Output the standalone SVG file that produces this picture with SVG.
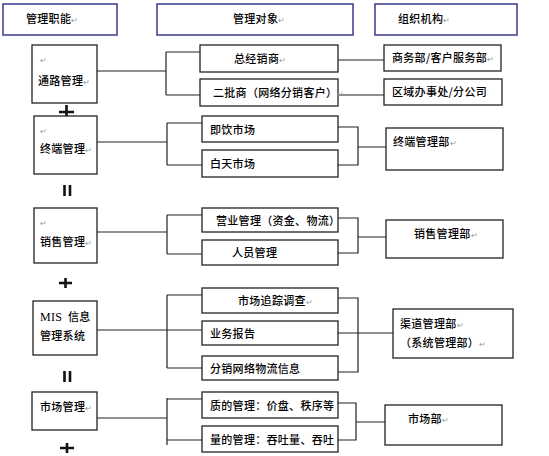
<svg xmlns="http://www.w3.org/2000/svg" width="549" height="456" viewBox="0 0 549 456">
<style>
.hd{fill:#fff;stroke:#3a3a8c;stroke-width:1.5}
.bx{fill:#fff;stroke:#222;stroke-width:1.3}
.ln{fill:none;stroke:#222;stroke-width:1.2}
.sym{fill:none;stroke:#111;stroke-width:2.6}
text{font-family:"Noto Sans CJK SC","Liberation Sans",sans-serif;font-size:11px;font-weight:500;fill:#000;letter-spacing:0.3px}
.c{text-anchor:middle}
.rt{fill:#999;font-size:8px;font-weight:400}
.ser{font-family:"Liberation Serif","Noto Sans CJK SC",serif;font-size:12px}
</style>
<rect width="549" height="456" fill="#fff"/>
<g id="headers">
<g id="h1"><rect class="hd" x="3" y="4" width="114" height="31"/><text x="26" y="23">管理职能<tspan class="rt">↵</tspan></text></g>
<g id="h2"><rect class="hd" x="157" y="4" width="196" height="31"/><text x="233" y="23">管理对象<tspan class="rt">↵</tspan></text></g>
<g id="h3"><rect class="hd" x="375" y="4" width="142" height="31"/><text x="398" y="23">组织机构<tspan class="rt">↵</tspan></text></g>
</g>
<g id="connectors">
<path class="ln" d="M97 71H166M166 52V95M166 52H200M166 95H200M338 60H384M338 95H384"/>
<path class="ln" d="M97 142H167M167 123V165M167 123H202M167 165H202M338 127H358V165H338M358 147H386"/>
<path class="ln" d="M97 232H167M167 215V254M167 215H202M167 254H202M338 218H358V253H338M358 237H386"/>
<path class="ln" d="M97 330H202M167 295V368M167 295H202M167 368H202M338 298H358V372H338M338 333H393"/>
<path class="ln" d="M97 418H167M167 398V445M167 399H202M167 440H202M338 403H356V440H338M356 422H385"/>
</g>
<g id="symbols">
<path class="sym" d="M59 112H74M66.5 105V117"/>
<path class="sym" d="M64.5 185V196M70 185V196"/>
<path class="sym" d="M59 283H72M65.5 278V288"/>
<path class="sym" d="M64.5 371V382M70 371V382"/>
<path class="sym" d="M60 448H74M67 443V453"/>
</g>
<g id="n-tonglu"><rect class="bx" x="32" y="45" width="65" height="58"/><text class="rt" x="40" y="63">↵</text><text x="38" y="85">通路管理<tspan class="rt">↵</tspan></text></g>
<g id="n-zongjingxiao"><rect class="bx" x="200" y="45" width="138" height="27"/><text x="234" y="63">总经销商<tspan class="rt">↵</tspan></text></g>
<g id="n-erpi"><rect class="bx" x="200" y="79" width="138" height="27"/><text x="213" y="97">二批商（网络分销客户）<tspan class="rt">↵</tspan></text></g>
<g id="n-shangwu"><rect class="bx" x="384" y="45" width="117" height="26"/><text x="392" y="62">商务部/客户服务部<tspan class="rt">↵</tspan></text></g>
<g id="n-quyu"><rect class="bx" x="384" y="79" width="118" height="26"/><text x="392" y="96">区域办事处/分公司</text></g>

<g id="n-zhongduan"><rect class="bx" x="34" y="116" width="63" height="58"/><text class="rt" x="40" y="134">↵</text><text x="40" y="153">终端管理<tspan class="rt">↵</tspan></text></g>
<g id="n-jiyin"><rect class="bx" x="202" y="116" width="136" height="26"/><text x="210" y="134">即饮市场</text></g>
<g id="n-baitian"><rect class="bx" x="202" y="150" width="136" height="27"/><text x="210" y="168">白天市场</text></g>
<g id="n-zhongduanbu"><rect class="bx" x="386" y="128" width="117" height="42"/><text x="393" y="146">终端管理部<tspan class="rt">↵</tspan></text></g>

<g id="n-xiaoshou"><rect class="bx" x="34" y="208" width="63" height="55"/><text class="rt" x="40" y="226">↵</text><text x="40" y="246">销售管理<tspan class="rt">↵</tspan></text></g>
<g id="n-yingye"><rect class="bx" x="202" y="208" width="136" height="24"/><text x="216" y="225">营业管理（资金、物流）</text></g>
<g id="n-renyuan"><rect class="bx" x="202" y="240" width="136" height="25"/><text x="232" y="257">人员管理</text></g>
<g id="n-xiaoshoubu"><rect class="bx" x="386" y="220" width="117" height="38"/><text x="414" y="238">销售管理部<tspan class="rt">↵</tspan></text></g>

<g id="n-mis"><rect class="bx" x="33" y="301" width="64" height="54"/><text x="40" y="321"><tspan class="ser">MIS</tspan> <tspan x="68">信息</tspan></text><text x="40" y="340" letter-spacing="1">管理系统</text></g>
<g id="n-zhuizong"><rect class="bx" x="202" y="288" width="136" height="25"/><text x="238" y="305">市场追踪调查<tspan class="rt">↵</tspan></text></g>
<g id="n-yewu"><rect class="bx" x="202" y="321" width="136" height="24"/><text x="210" y="338">业务报告</text></g>
<g id="n-fenxiao"><rect class="bx" x="202" y="356" width="136" height="24"/><text x="210" y="373">分销网络物流信息</text></g>
<g id="n-qudao"><rect class="bx" x="393" y="309" width="120" height="49"/><text x="400" y="328">渠道管理部<tspan class="rt">↵</tspan></text><text x="400" y="347">（系统管理部）<tspan class="rt">↵</tspan></text></g>

<g id="n-shichang"><rect class="bx" x="32" y="392" width="65" height="38"/><text x="40" y="411">市场管理<tspan class="rt">↵</tspan></text></g>
<g id="n-zhi"><rect class="bx" x="202" y="392" width="136" height="26"/><text x="210" y="410">质的管理：价盘、秩序等</text></g>
<g id="n-liang"><rect class="bx" x="202" y="426" width="136" height="26"/><text x="210" y="444">量的管理：吞吐量、吞吐</text></g>
<g id="n-shichangbu"><rect class="bx" x="385" y="405" width="117" height="40"/><text x="408" y="423">市场部<tspan class="rt">↵</tspan></text></g>
</svg>
